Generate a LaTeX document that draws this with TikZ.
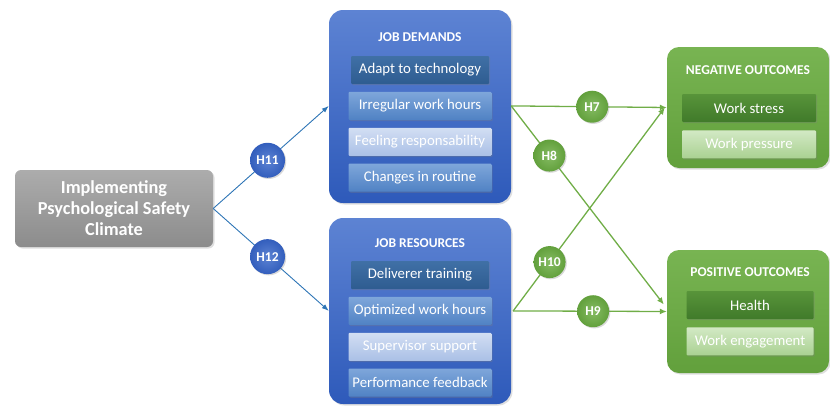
\documentclass[tikz,border=0pt]{standalone}
\usepackage{fontspec}
\setmainfont{Carlito}
\usetikzlibrary{arrows.meta,positioning,shadows}
\definecolor{bluetop}{RGB}{93,131,211}
\definecolor{bluebot}{RGB}{46,90,186}
\definecolor{darktop}{RGB}{64,112,166}
\definecolor{darkbot}{RGB}{46,92,144}
\definecolor{midtop}{RGB}{126,166,218}
\definecolor{midbot}{RGB}{80,130,196}
\definecolor{lighttop}{RGB}{210,222,243}
\definecolor{lightbot}{RGB}{170,192,230}
\definecolor{greentop}{RGB}{120,180,82}
\definecolor{greenbot}{RGB}{98,160,60}
\definecolor{gdarktop}{RGB}{88,148,58}
\definecolor{gdarkbot}{RGB}{64,122,42}
\definecolor{glighttop}{RGB}{210,233,196}
\definecolor{glightbot}{RGB}{170,209,146}
\definecolor{graytop}{RGB}{172,172,172}
\definecolor{graybot}{RGB}{140,140,140}
\definecolor{bline}{RGB}{46,117,182}
\definecolor{gline}{RGB}{112,173,71}
\tikzset{
  panel/.style={rectangle,rounded corners=14pt,draw=none,inner sep=0pt,
    drop shadow={shadow xshift=1.5pt,shadow yshift=-1.5pt,opacity=0.25}},
  bluepanel/.style={panel,top color=bluetop,bottom color=bluebot,
    minimum width=182pt},
  greenpanel/.style={panel,rounded corners=12pt,top color=greentop,
    bottom color=greenbot,minimum width=162pt},
  paneltitle/.style={font=\fontsize{13.5}{15}\selectfont\bfseries,text=white},
  fac/.style={rectangle,rounded corners=1pt,draw=none,inner sep=0pt,
    minimum height=28pt,minimum width=143pt,text=white,
    font=\fontsize{14.8}{17}\selectfont,
    drop shadow={shadow xshift=1.2pt,shadow yshift=-1.2pt,opacity=0.3}},
  facdark/.style={top color=darktop,bottom color=darkbot,minimum width=138pt},
  facmid/.style={top color=midtop,bottom color=midbot},
  faclight/.style={top color=lighttop,bottom color=lightbot},
  outc/.style={fac,minimum width=134pt},
  outdark/.style={top color=gdarktop,bottom color=gdarkbot},
  outlight/.style={top color=glighttop,bottom color=glightbot},
  hyp/.style={circle,draw=none,inner sep=0pt,text=white,
    font=\fontsize{13.5}{15}\selectfont\bfseries,
    drop shadow={shadow xshift=1.2pt,shadow yshift=-1.2pt,opacity=0.3}},
  bhyp/.style={hyp,minimum size=35pt,inner color=bluetop,
    outer color=bluebot!90!bluetop},
  ghyp/.style={hyp,minimum size=32pt,inner color=greentop!90!white,
    outer color=greenbot},
  barr/.style={draw=bline,line width=0.9pt,-{Latex[length=7pt,width=5pt]}},
  garr/.style={draw=gline,line width=1.3pt,-{Latex[length=7pt,width=6pt]}}
}

\begin{document}
\begin{tikzpicture}[x=1pt,y=-1pt,node distance=7.5pt]
  \useasboundingbox (0,0) rectangle (830,405);
  % starting point
  \node[panel,rounded corners=6pt,top color=graytop,bottom color=graybot,
    minimum width=198pt,minimum height=77pt,text=white,align=center,
    font=\fontsize{18.3}{21}\selectfont\bfseries] (psc) at (114,208.5)
    {Implementing\\Psychological Safety\\Climate};
  % job demands
  \node[bluepanel,minimum height=193pt] (dem) at (420,106.5) {};
  \node[paneltitle] (demt) at (420,37) {JOB DEMANDS};
  \node[fac,facdark] (dem1) at (420,70) {Adapt to technology};
  \node[fac,facmid,below=of dem1] (dem2) {Irregular work hours};
  \node[fac,faclight,below=of dem2] (dem3) {Feeling responsability};
  \node[fac,facmid,below=of dem3] (dem4) {Changes in routine};
  % job resources
  \node[bluepanel,minimum height=186pt] (res) at (420,311) {};
  \node[paneltitle] (rest) at (420,243) {JOB RESOURCES};
  \node[fac,facdark] (res1) at (420,275) {Deliverer training};
  \node[fac,facmid,below=of res1] (res2) {Optimized work hours};
  \node[fac,faclight,below=of res2] (res3) {Supervisor support};
  \node[fac,facmid,below=of res3] (res4) {Performance feedback};
  % outcomes
  \node[greenpanel,minimum height=121pt] (neg) at (748,107.5) {};
  \node[paneltitle] (negt) at (748,70) {NEGATIVE OUTCOMES};
  \node[outc,outdark] (neg1) at (749,108) {Work stress};
  \node[outc,outlight,below=8pt of neg1] (neg2) {Work pressure};
  \node[greenpanel,minimum height=123pt] (pos) at (748,311.5) {};
  \node[paneltitle] (post) at (750,272) {POSITIVE OUTCOMES};
  \node[outc,outdark,minimum width=127pt] (pos1) at (750,305) {Health};
  \node[outc,outlight,minimum width=127pt,below=8pt of pos1] (pos2)
    {Work engagement};
  % end points on the panels
  \coordinate (demin) at (dem.west |- dem2);
  \coordinate (resin) at (res.west |- res2);
  \coordinate (demout) at (dem.east |- dem2);
  \coordinate (resout) at ([xshift=2pt]res.east |- res2);
  \coordinate (negin) at ([xshift=-2pt]neg.west);
  \coordinate (posin) at ([xshift=-3pt,yshift=7pt]pos.west);
  % hypotheses
  \draw[barr] (psc.east) -- node[bhyp,pos=0.47] (h11) {H11} (demin);
  \draw[barr] (psc.east) -- node[bhyp,pos=0.47] (h12) {H12} (resin);
  \draw[garr] (demout) -- node[ghyp,pos=0.52] (h7) {H7} (neg.west);
  \draw[garr] (demout) -- node[ghyp,pos=0.25] (h8) {H8} (posin);
  \draw[garr] (resout) -- node[ghyp,pos=0.52] (h9) {H9} (pos.west);
  \draw[garr] (resout) -- node[ghyp,pos=0.24] (h10) {H10} (negin);
\end{tikzpicture}
\end{document}
